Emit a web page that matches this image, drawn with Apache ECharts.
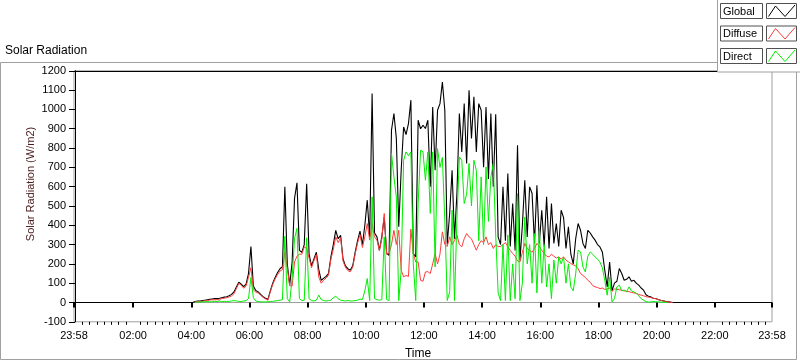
<!DOCTYPE html>
<html>
<head>
<meta charset="utf-8">
<script src="https://cdn.jsdelivr.net/npm/echarts@6/dist/echarts.min.js"></script>
<style>
html,body{margin:0;padding:0;background:#ffffff;}
#chart{width:800px;height:361px;}
</style>
</head>
<body>
<div id="chart"></div>
<script>
// ---------------- data ----------------
const stepMinutes = 5;          // sample spacing
const globalStart = -2;         // 23:58 of previous day (minutes from 00:00)
const dayStart = 248;           // first Diffuse / Direct sample (04:08)

const xLabelTimes = [-2, 120, 240, 360, 480, 600, 720, 840, 960, 1080, 1200, 1320, 1438];
const yMin = -100, yMax = 1200, yStep = 100;
const seriesNames = ['Global', 'Diffuse', 'Direct'];

const globalValues = [
  // 23:58 - 03:53 (night)
  0,0,0,0,0,0,0,0,0,0,0,0,
  0,0,0,0,0,0,0,0,0,0,0,0,
  0,0,0,0,0,0,0,0,0,0,0,0,
  0,0,0,0,0,0,0,0,0,0,0,0,
  // 04:00
  0,0,5,8,8,10,12,14,16,18,20,20,
  22,25,28,30,35,42,55,80,105,95,82,95,
  150,290,85,62,55,42,30,22,16,60,100,130,
  155,175,185,600,200,90,210,540,620,270,260,300,
  615,250,190,225,260,170,115,125,135,150,236,300,
  374,330,348,225,190,175,167,190,260,320,370,300,
  // 10:00
  400,530,340,1082,360,340,270,340,443,254,245,892,
  979,850,392,685,909,870,927,1048,254,236,944,900,
  918,901,944,599,1013,685,996,1030,1142,996,300,461,
  685,330,566,979,780,1030,720,1099,850,1065,780,1030,
  996,700,1013,640,979,600,975,340,300,599,320,668,
  290,513,270,815,219,400,633,340,599,566,306,607,
  // 16:00
  306,478,290,547,280,513,306,409,290,478,440,280,
  392,250,200,330,409,374,306,280,374,360,340,323,
  300,288,262,167,81,210,60,100,110,176,150,115,
  120,133,110,115,100,90,75,64,40,32,29,22,
  21,16,12,9,6,4,2,0,0,0,0,0,
  // 21:00 - 23:58
  0,0,0,0,0,0,0,0,0,0,0,0,
  0,0,0,0,0,0,0,0,0,0,0,0,
  0,0,0,0,0,0,0,0,0,0,0,0,
  0
];

const diffuseValues = [
  3,5,6,6,9,9,13,14,14,15,
  14,21,22,25,29,34,45,72,99,90,74,85,
  130,180,65,54,50,38,27,19,12,55,94,122,
  145,163,170,260,180,87,85,210,240,250,250,288,
  280,230,180,217,248,132,100,115,127,140,224,275,
  340,310,336,215,182,165,159,182,250,308,352,285,
  340,409,323,409,340,323,271,330,461,250,254,300,
  374,300,374,167,133,140,135,380,254,210,210,115,
  110,158,160,150,200,254,200,250,366,300,290,340,
  300,320,350,300,288,330,357,340,330,300,271,300,
  320,310,340,300,310,280,300,290,290,300,310,290,
  270,254,240,215,210,260,306,280,270,260,280,306,
  290,270,254,240,236,250,240,230,236,225,236,220,
  210,202,195,190,175,150,140,130,115,105,88,81,
  78,72,75,68,70,75,58,70,68,66,64,60,
  58,56,52,50,47,42,38,35,30,28,26,22,
  20,15,12,8,5,3,1,0
];

const directValues = [
  2,3,2,4,3,5,3,4,6,5,
  8,4,6,5,6,8,10,8,6,5,8,10,
  20,130,25,8,5,4,3,3,4,5,6,8,
  10,12,15,343,20,3,126,333,384,20,10,12,
  335,20,10,8,12,38,15,10,8,10,12,25,
  32,20,12,10,8,10,8,8,10,12,18,15,
  60,124,10,547,20,15,12,15,340,15,10,772,
  650,547,10,167,737,780,760,780,200,10,513,789,
  780,633,780,461,780,184,797,700,752,426,10,55,
  478,10,430,754,737,513,560,720,500,737,685,320,
  650,300,702,420,650,720,350,50,10,300,10,350,
  10,200,20,564,10,100,443,200,300,100,357,50,
  374,100,300,80,200,20,220,100,236,200,236,100,
  200,80,60,150,271,262,184,158,240,262,250,236,
  225,210,180,115,38,130,3,20,81,90,60,65,
  55,81,60,55,47,35,20,12,5,2,3,5,
  4,3,2,2,1,0
];

// ---------------- chart ----------------
function toPairs(values, start) {
  return values.map((v, i) => [start + i * stepMinutes, v]);
}
function fmtTime(v) {
  let m = ((Math.round(v) % 1440) + 1440) % 1440;
  const h = Math.floor(m / 60), mm = m % 60;
  return String(h).padStart(2, '0') + ':' + String(mm).padStart(2, '0');
}
const minorTicks = [];
for (let t = 15; t < 1438; t += 15) if (t % 120 !== 0) minorTicks.push(t);

const FONT = 'Liberation Sans';
const xMin = xLabelTimes[0], xMax = xLabelTimes[xLabelTimes.length - 1];

const chart = echarts.init(document.getElementById('chart'), null, {renderer: 'canvas'});

const legendColors = ['#000000', '#ff3c3c', '#00ee00'];
const legendGraphics = [];
seriesNames.forEach((name, k) => {
  const y = 3.5 + k * 22.5;
  legendGraphics.push({
    type: 'rect', z: 110, shape: {x: 720.5, y: y, width: 42, height: 15},
    style: {fill: '#ffffff', stroke: '#505050', lineWidth: 1}
  });
  legendGraphics.push({
    type: 'text', z: 111, x: 723, y: y + 8,
    style: {text: name, font: '11px "' + FONT + '"', fill: '#000', verticalAlign: 'middle', textAlign: 'left'}
  });
  legendGraphics.push({
    type: 'rect', z: 110, shape: {x: 766.5, y: y, width: 30, height: 15},
    style: {fill: '#ffffff', stroke: '#505050', lineWidth: 1}
  });
  legendGraphics.push({
    type: 'polyline', z: 111,
    shape: {points: [[768.5, y + 13], [775.5, y + 2.5], [785, y + 13], [795, y + 1.5]]},
    style: {stroke: legendColors[k], lineWidth: 1, fill: null}
  });
});

const option = {
  animation: false,
  backgroundColor: '#ffffff',
  textStyle: {fontFamily: FONT},
  grid: {
    left: 74, top: 70.81, width: 698, height: 251,
    show: true, borderColor: '#a0a0a0', borderWidth: 1, backgroundColor: '#ffffff'
  },
  xAxis: [
    {
      type: 'value', min: xMin, max: xMax, position: 'bottom',
      axisLine: {show: true, lineStyle: {color: '#a0a0a0', width: 1}},
      axisTick: {show: true, customValues: xLabelTimes, length: 5, lineStyle: {color: '#000', width: 2}},
      axisLabel: {customValues: xLabelTimes, formatter: fmtTime, fontSize: 11, color: '#000', margin: 9, fontFamily: FONT},
      splitLine: {show: false}
    },
    {
      type: 'value', min: xMin, max: xMax, position: 'bottom',
      axisLine: {show: false},
      axisTick: {show: true, customValues: minorTicks, length: 3, lineStyle: {color: '#000', width: 1}},
      axisLabel: {show: false},
      splitLine: {show: false}
    },
    {
      type: 'value', min: xMin, max: xMax, position: 'top',
      axisLine: {show: true, lineStyle: {color: '#000', width: 1}},
      axisTick: {show: false}, axisLabel: {show: false}, splitLine: {show: false}
    }
  ],
  yAxis: {
    type: 'value', min: yMin, max: yMax, interval: yStep,
    axisLine: {show: true, lineStyle: {color: '#000', width: 1}},
    axisTick: {show: true, length: 6, lineStyle: {color: '#000'}},
    axisLabel: {fontSize: 11, color: '#000', margin: 8, fontFamily: FONT, formatter: (v) => String(v)},
    splitLine: {show: false}
  },
  series: [
    {
      name: seriesNames[0], type: 'line', showSymbol: false, symbol: 'none',
      data: toPairs(globalValues, globalStart), z: 2,
      lineStyle: {color: legendColors[0], width: 1.1}
    },
    {
      name: seriesNames[1], type: 'line', showSymbol: false, symbol: 'none',
      data: toPairs(diffuseValues, dayStart), z: 3,
      lineStyle: {color: legendColors[1], width: 1}
    },
    {
      name: seriesNames[2], type: 'line', showSymbol: false, symbol: 'none',
      data: toPairs(directValues, dayStart), z: 4,
      lineStyle: {color: legendColors[2], width: 1}
    }
  ],
  graphic: [
    {
      type: 'rect', z: 0, silent: true,
      shape: {x: 0.5, y: 62.5, width: 796, height: 297},
      style: {fill: null, stroke: '#a0a0a0', lineWidth: 1}
    },
    {
      type: 'text', x: 5, y: 51,
      style: {text: 'Solar Radiation', font: '12px "' + FONT + '"', fill: '#000', verticalAlign: 'middle'}
    },
    {
      type: 'text', x: 31, y: 184, rotation: Math.PI / 2,
      style: {text: 'Solar Radiation (W/m2)', font: '11px "' + FONT + '"', fill: '#4a1c1c', textAlign: 'center', verticalAlign: 'middle'}
    },
    {
      type: 'text', x: 418, y: 354,
      style: {text: 'Time', font: '12px "' + FONT + '"', fill: '#000', textAlign: 'center', verticalAlign: 'middle'}
    },
    {
      type: 'rect', z: 100, silent: true,
      shape: {x: 717.5, y: -2, width: 90, height: 74},
      style: {fill: '#ffffff', stroke: '#a0a0a0', lineWidth: 1}
    }
  ].concat(legendGraphics)
};
chart.setOption(option);
</script>
</body>
</html>
